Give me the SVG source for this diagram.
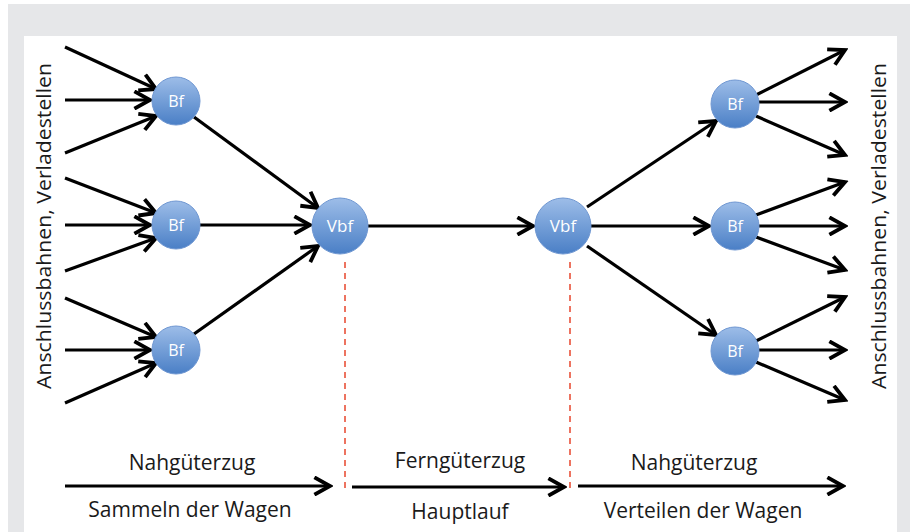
<svg xmlns="http://www.w3.org/2000/svg" width="914" height="532" viewBox="0 0 914 532">
<defs>
<linearGradient id="g" x1="0" y1="0" x2="0" y2="1">
<stop offset="0" stop-color="#9dbde8"/>
<stop offset="1" stop-color="#4a7fc6"/>
</linearGradient>
<marker id="ah" viewBox="0 0 12 12" refX="10" refY="6" markerWidth="6.5" markerHeight="6.5" markerUnits="strokeWidth" orient="auto">
<path d="M1,1 L10,6 L1,11" fill="none" stroke="#000" stroke-width="2.2" stroke-linejoin="miter"/>
</marker>
<style>
.e{stroke:#000;stroke-width:3.2;fill:none;marker-end:url(#ah)}
.n{fill:url(#g);stroke:#6f97d2;stroke-width:1}
.nt{font-family:"Open Sans","Liberation Sans",sans-serif;font-size:16px;fill:#fff;text-anchor:middle}
.vt{font-family:"Open Sans","Liberation Sans",sans-serif;font-size:17px;fill:#fff;text-anchor:middle}
.lb{font-family:"Open Sans","Liberation Sans",sans-serif;font-size:21px;fill:#1a1a1a;text-anchor:middle}
.lv{font-family:"Open Sans","Liberation Sans",sans-serif;font-size:20px;fill:#1a1a1a;text-anchor:middle}
.d{stroke:#e8452c;stroke-width:1.5;stroke-dasharray:6,5}
</style>
</defs>
<rect x="0" y="0" width="914" height="532" fill="#fff"/>
<rect x="8" y="4" width="902" height="528" fill="#e6e7e9"/>
<rect x="24" y="36" width="873" height="496" fill="#fff"/>
<g id="connectors">
<line class="e" x1="65" y1="47" x2="156" y2="89"/>
<line class="e" x1="65" y1="100" x2="150" y2="100"/>
<line class="e" x1="65" y1="153" x2="156" y2="116"/>
<line class="e" x1="65" y1="178" x2="156" y2="213"/>
<line class="e" x1="65" y1="225" x2="150" y2="225"/>
<line class="e" x1="65" y1="271" x2="156" y2="238"/>
<line class="e" x1="65" y1="298" x2="156" y2="337"/>
<line class="e" x1="65" y1="350" x2="150" y2="350"/>
<line class="e" x1="65" y1="403" x2="156" y2="363"/>
<line class="e" x1="194" y1="117" x2="318" y2="208"/>
<line class="e" x1="200" y1="225" x2="310" y2="225"/>
<line class="e" x1="194" y1="334" x2="318" y2="246"/>
<line class="e" x1="368" y1="226" x2="533" y2="226"/>
<line class="e" x1="587" y1="207" x2="716" y2="121"/>
<line class="e" x1="591" y1="226" x2="709" y2="226"/>
<line class="e" x1="587" y1="246" x2="716" y2="335"/>
<line class="e" x1="756" y1="95" x2="845" y2="50"/>
<line class="e" x1="759" y1="102" x2="845" y2="102"/>
<line class="e" x1="756" y1="116" x2="845" y2="155"/>
<line class="e" x1="756" y1="215" x2="845" y2="182"/>
<line class="e" x1="759" y1="226" x2="845" y2="226"/>
<line class="e" x1="756" y1="237" x2="845" y2="270"/>
<line class="e" x1="756" y1="341" x2="845" y2="297"/>
<line class="e" x1="759" y1="350" x2="845" y2="350"/>
<line class="e" x1="756" y1="362" x2="845" y2="400"/>
<line class="d" x1="345" y1="262" x2="345" y2="492"/>
<line class="d" x1="570" y1="262" x2="570" y2="492"/>
<line class="e" x1="65" y1="486" x2="330" y2="486"/>
<line class="e" x1="352" y1="487" x2="564" y2="487"/>
<line class="e" x1="578" y1="486" x2="843" y2="486"/>
</g>
<g id="bf1"><circle class="n" cx="176" cy="101" r="24"/><text class="nt" x="176" y="107">Bf</text></g>
<g id="bf2"><circle class="n" cx="176" cy="225" r="24"/><text class="nt" x="176" y="231">Bf</text></g>
<g id="bf3"><circle class="n" cx="176" cy="350" r="24"/><text class="nt" x="176" y="356">Bf</text></g>
<g id="vbf1"><circle class="n" cx="340" cy="226" r="28"/><text class="vt" x="340" y="232">Vbf</text></g>
<g id="vbf2"><circle class="n" cx="563" cy="226" r="28"/><text class="vt" x="563" y="232">Vbf</text></g>
<g id="bf4"><circle class="n" cx="735" cy="104" r="24"/><text class="nt" x="735" y="110">Bf</text></g>
<g id="bf5"><circle class="n" cx="735" cy="226" r="24"/><text class="nt" x="735" y="232">Bf</text></g>
<g id="bf6"><circle class="n" cx="735" cy="351" r="24"/><text class="nt" x="735" y="357">Bf</text></g>
<g id="labels">
<text class="lv" transform="translate(51,226) rotate(-90)" textLength="326" lengthAdjust="spacingAndGlyphs">Anschlussbahnen, Verladestellen</text>
<text class="lv" transform="translate(886,226) rotate(-90)" textLength="326" lengthAdjust="spacingAndGlyphs">Anschlussbahnen, Verladestellen</text>
<text class="lb" x="192" y="470">Nahgüterzug</text>
<text class="lb" x="190" y="517">Sammeln der Wagen</text>
<text class="lb" x="460" y="468">Ferngüterzug</text>
<text class="lb" x="460" y="519">Hauptlauf</text>
<text class="lb" x="694" y="470">Nahgüterzug</text>
<text class="lb" x="703" y="518">Verteilen der Wagen</text>
</g>
</svg>
